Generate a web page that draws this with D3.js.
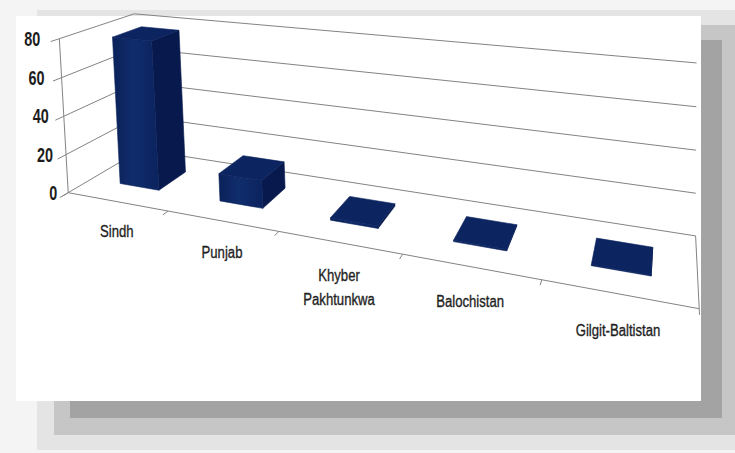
<!DOCTYPE html>
<html><head><meta charset="utf-8">
<script src="https://cdn.jsdelivr.net/npm/d3@7/dist/d3.min.js"></script>
<style>html,body{margin:0;padding:0;background:#f4f4f4;overflow:hidden}svg{display:block}</style>
</head><body>
<script>
// ---------------- data ----------------
const categories = ["Sindh", "Punjab", "Khyber Pakhtunkwa", "Balochistan", "Gilgit-Baltistan"];
const values = [78, 14, 1.2, 0.6, 0.4];
const yTicks = [0, 20, 40, 60, 80];
const yMax = 80;

// ---------------- camera calibration (frame anchors: [catFrac, valueFrac, depth] -> screen) ----------------
const calib = [
  [0,0,0, 64,192.5],[0,0.25,0, 63,155],[0,0.5,0, 62.5,116.5],[0,0.75,0, 61.5,77.5],[0,1,0, 61,38.5],
  [0.2,0,0, 170,213.5],[0.4,0,0, 278,232],[0.6,0,0, 402,255],[0.8,0,0, 539,283],[1,0,0, 700,310],
  [1,0,1, 697,238],[1,0.25,1, 696.7,194.6],[1,0.5,1, 696.5,151.6],[1,0.75,1, 696.3,106.7],[1,1,1, 696,62],
  [0.06,0,0.3, 123,182],[0.14,0,0.3, 165,190],[0.14,0,0.7, 183,175],
  [0.26,0,0.3, 223,200],[0.34,0,0.3, 263,208],[0.34,0,0.7, 282,192],
  [0.46,0,0.3, 331.7,218.3],[0.46,0,0.7, 350,196.7],[0.54,0,0.7, 393.3,202.7],[0.54,0,0.3, 380,225],
  [0.66,0,0.3, 455,240],[0.66,0,0.7, 465,218],[0.74,0,0.7, 516.7,225],[0.74,0,0.3, 506.7,250],
  [0.86,0,0.3, 591.7,266.7],[0.86,0,0.7, 596.7,238.3],[0.94,0,0.7, 651.7,246.7],[0.94,0,0.3, 650,275]
];

function fitCamera(pts){
  const A=[], b=[];
  pts.forEach(([X,V,Z,x,y])=>{
    A.push([X,V,Z,1,0,0,0,0,-x*X,-x*V,-x*Z]); b.push(x);
    A.push([0,0,0,0,X,V,Z,1,-y*X,-y*V,-y*Z]); b.push(y);
  });
  const n=11;
  const N=Array.from({length:n},()=>new Array(n+1).fill(0));
  for(let r=0;r<A.length;r++){
    for(let i=0;i<n;i++){
      for(let j=0;j<n;j++) N[i][j]+=A[r][i]*A[r][j];
      N[i][n]+=A[r][i]*b[r];
    }
  }
  for(let c=0;c<n;c++){
    let piv=c; for(let r=c+1;r<n;r++) if(Math.abs(N[r][c])>Math.abs(N[piv][c])) piv=r;
    const tmp=N[c]; N[c]=N[piv]; N[piv]=tmp;
    for(let r=0;r<n;r++){ if(r===c) continue; const f=N[r][c]/N[c][c]; for(let k=c;k<=n;k++) N[r][k]-=f*N[c][k]; }
  }
  return N.map((row,i)=>row[n]/row[i]);
}
const P = fitCamera(calib);
function proj(X,V,Z){
  const w=P[8]*X+P[9]*V+P[10]*Z+1;
  return [(P[0]*X+P[1]*V+P[2]*Z+P[3])/w,(P[4]*X+P[5]*V+P[6]*Z+P[7])/w];
}
// camera centre (null space of P)
function det3(m){return m[0][0]*(m[1][1]*m[2][2]-m[1][2]*m[2][1])-m[0][1]*(m[1][0]*m[2][2]-m[1][2]*m[2][0])+m[0][2]*(m[1][0]*m[2][1]-m[1][1]*m[2][0]);}
const M=[[P[0],P[1],P[2]],[P[4],P[5],P[6]],[P[8],P[9],P[10]]];
const t=[-P[3],-P[7],-1];
const D=det3(M);
const cam=[0,1,2].map(k=>{const m=M.map((row,i)=>row.map((v,j)=>j===k?t[i]:v));return det3(m)/D;});

// ---------------- scales ----------------
const xBand = d3.scaleBand().domain(categories).range([0,1]).paddingInner(0.6).paddingOuter(0.3);
const zBand = d3.scaleBand().domain(["series"]).range([0,1]).paddingInner(0).paddingOuter(0.75);
const yScale = d3.scaleLinear().domain([0,yMax]).range([0,1]);

// ---------------- drawing ----------------
const W=735,H=453;
const svg=d3.select("body").append("svg").attr("width",W).attr("height",H);
const defs=svg.append("defs");
const g1=defs.append("linearGradient").attr("id","frontGrad").attr("x1","0").attr("x2","1").attr("y1","0").attr("y2","0");
g1.append("stop").attr("offset","0").attr("stop-color","#0a2159");
g1.append("stop").attr("offset","0.45").attr("stop-color","#102d6c");
g1.append("stop").attr("offset","1").attr("stop-color","#0b235e");

svg.append("rect").attr("width",W).attr("height",H).attr("fill","#f4f4f4");
[[37,10,698,440,"#e4e4e4"],[54,25,681,410,"#c6c6c6"],[70,40,652,378,"#a3a3a3"]].forEach(([x,y,w,h,c])=>
  svg.append("rect").attr("x",x).attr("y",y).attr("width",w).attr("height",h).attr("fill",c));
svg.append("rect").attr("x",16).attr("y",16).attr("width",685).attr("height",385).attr("fill","#ffffff");

const line=d3.line();
const grid=svg.append("g").attr("fill","none").attr("stroke","#838383").attr("stroke-width",1);
yTicks.forEach(v=>{
  const V=yScale(v);
  grid.append("path").attr("d",line([proj(0,V,0),proj(0,V,1)]));
  grid.append("path").attr("d",line([proj(0,V,1),proj(1,V,1)]));
  grid.append("path").attr("d",line([proj(0,V,-0.1),proj(0,V,0)]));
});
grid.append("path").attr("d",line([proj(0,0,0),proj(0,1,0)]));
grid.append("path").attr("d",line([proj(0,0,0),proj(1,0,0)]));
grid.append("path").attr("d",line([proj(1,0,0),proj(1,0,1)]));
d3.range(categories.length+1).forEach(i=>{
  const X=i*xBand.step();
  grid.append("path").attr("d",line([proj(X,0,0),proj(X,0,-0.07)]));
});

// bars
const bars=svg.append("g");
categories.forEach((c,i)=>{
  const x0=xBand(c), x1=x0+xBand.bandwidth();
  const z0=zBand("series"), z1=z0+zBand.bandwidth();
  const v=yScale(values[i]);
  const side="#081a4d", top="#0c2460";
  const faces=[];
  if(cam[2]>z1) faces.push({pts:[[x0,0,z1],[x1,0,z1],[x1,v,z1],[x0,v,z1]],fill:side});
  if(cam[0]<x0) faces.push({pts:[[x0,0,z0],[x0,0,z1],[x0,v,z1],[x0,v,z0]],fill:side});
  if(cam[0]>x1) faces.push({pts:[[x1,0,z0],[x1,0,z1],[x1,v,z1],[x1,v,z0]],fill:side});
  if(cam[2]<z0) faces.push({pts:[[x0,0,z0],[x1,0,z0],[x1,v,z0],[x0,v,z0]],fill:"url(#frontGrad)"});
  if(cam[1]>v) faces.push({pts:[[x0,v,z0],[x1,v,z0],[x1,v,z1],[x0,v,z1]],fill:top});
  faces.forEach(f=>{
    bars.append("path").attr("d",line(f.pts.map(p=>proj(...p)))+"Z")
      .attr("fill",f.fill).attr("stroke",f.fill==="url(#frontGrad)"?"#0b235e":f.fill).attr("stroke-width",0.6).attr("stroke-linejoin","round");
  });
});

// y labels
yTicks.forEach(v=>{
  const V=yScale(v);
  const a=proj(0,V,0);
  svg.append("g").attr("transform",`translate(${a[0]-11-8*V},${a[1]+7}) scale(0.72,1)`)
    .append("text").attr("text-anchor","end").attr("font-family","'Liberation Sans', Arial, sans-serif")
    .attr("font-weight","bold").attr("font-size",20).attr("fill","#1c1c1c").text(v);
});

// category labels
categories.forEach((c,i)=>{
  const Xc=xBand(c)+xBand.bandwidth()/2;
  const e=proj(Xc,0,0);
  const gl=svg.append("g").attr("transform",`translate(${e[0]},${e[1]+35+8*Xc}) scale(0.82,1)`);
  c.split(" ").forEach((ln,k)=>{
    gl.append("text").attr("y",k*24).attr("text-anchor","middle")
      .attr("font-family","'Liberation Sans', Arial, sans-serif").attr("font-size",16)
      .attr("fill","#1f1f1f").attr("stroke","#1f1f1f").attr("stroke-width",0.35).text(ln);
  });
});
</script>
</body></html>
